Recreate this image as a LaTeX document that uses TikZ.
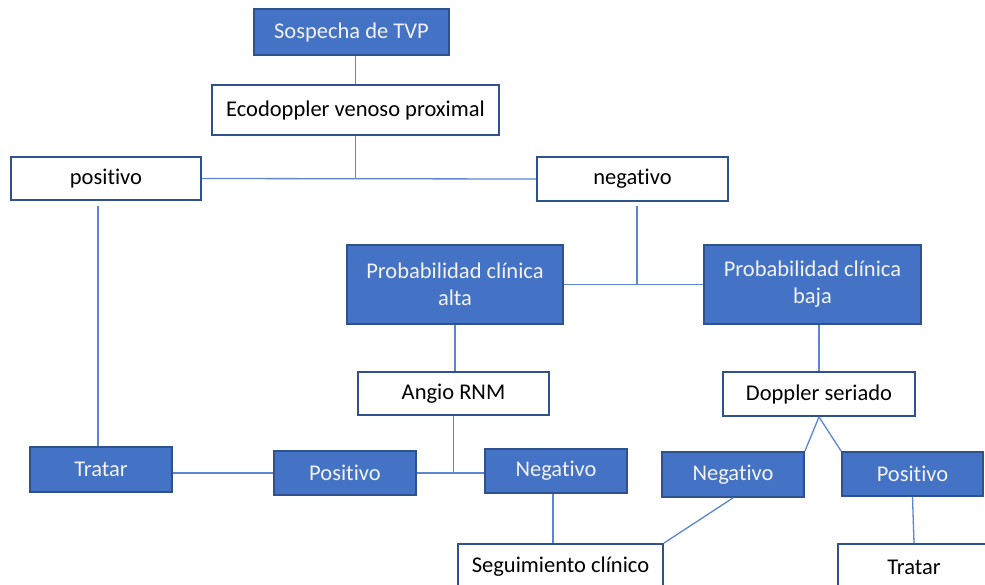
\documentclass[tikz,border=0pt]{standalone}
\usepackage{fontspec}
\setmainfont{Carlito}[Ligatures=NoCommon]
\usetikzlibrary{calc}
\definecolor{boxblue}{HTML}{4472C4}
\definecolor{edgeblue}{HTML}{2F528F}
\definecolor{lineblue}{HTML}{5B86D0}
\definecolor{paletext}{HTML}{F2F2F2}
\begin{document}
\begin{tikzpicture}[x=1pt,y=-1pt,
  base/.style={rectangle, draw=edgeblue, line width=1.8pt, inner sep=0pt, align=center,
    font=\fontsize{22.5}{27}\selectfont},
  bluebox/.style={base, fill=boxblue, text=paletext},
  whitebox/.style={base, fill=white, text=black},
  conn/.style={draw=lineblue, line width=1.3pt}]
\useasboundingbox (0,0) rectangle (985,584);
\clip (0,0) rectangle (985,584);
\node[bluebox, minimum width=195, minimum height=46] (sos) at (351.5,32) {Sospecha de TVP};
\node[whitebox, minimum width=287, minimum height=50] (eco) at (355.5,110) {Ecodoppler venoso proximal};
\node[whitebox, minimum width=190, minimum height=43] (pos) at (106,178.5) {positivo};
\node[whitebox, minimum width=191, minimum height=44] (neg) at (632.5,179) {negativo};
\node[bluebox, minimum width=216, minimum height=79] (alta) at (455,284.5) {Probabilidad clínica\\alta};
\node[bluebox, minimum width=217, minimum height=79] (baja) at (812.5,284.5) {Probabilidad clínica\\baja};
\node[whitebox, minimum width=191, minimum height=43] (angio) at (453.5,393.5) {Angio RNM};
\node[whitebox, minimum width=192, minimum height=44] (dop) at (819,394) {Doppler seriado};
\node[bluebox, minimum width=142, minimum height=45] (tr1) at (101,469.5) {Tratar};
\node[bluebox, minimum width=142, minimum height=44] (pos2) at (345,473) {Positivo};
\node[bluebox, minimum width=142, minimum height=44] (neg2) at (556,471) {Negativo};
\node[bluebox, minimum width=142, minimum height=45] (neg3) at (733,474.5) {Negativo};
\node[bluebox, minimum width=141, minimum height=44] (pos3) at (912.5,474) {Positivo};
\node[whitebox, minimum width=205, minimum height=46] (seg) at (560.5,567) {Seguimiento clínico};
\node[whitebox, minimum width=152, minimum height=46] (tr2) at (914,567) {Tratar};
\coordinate (pj) at ($(pos.south)+(-8,5)$);
\coordinate (nj) at ($(neg.south)+(4.5,4)$);
\coordinate (n2j) at ($(neg2.south)+(-3,0)$);
\path[conn] (eco.north) -- (eco.north |- sos.south);
\path[conn] (eco.south) -- (eco.south |- pos.east);
\path[conn] (pos.east) -- (neg.west);
\path[conn] (pj) -- (pj |- tr1.north);
\path[conn] (nj) -- (nj |- alta.east);
\path[conn] (alta.east) -- (baja.west);
\path[conn] (alta.south) -- (alta.south |- angio.north);
\path[conn] (dop.north) -- (dop.north |- baja.south);
\path[conn] (angio.south) -- (angio.south |- pos2.east);
\path[conn] (tr1.east |- pos2.west) -- (pos2.west);
\path[conn] (pos2.east) -- (pos2.east -| neg2.west);
\path[conn] (dop.south) -- (neg3.north east);
\path[conn] (dop.south) -- (pos3.north west);
\path[conn] (n2j) -- (n2j |- seg.north);
\path[conn] (neg3.south) -- (seg.north east);
\path[conn] (pos3.south) -- (tr2.north);
\end{tikzpicture}
\end{document}
